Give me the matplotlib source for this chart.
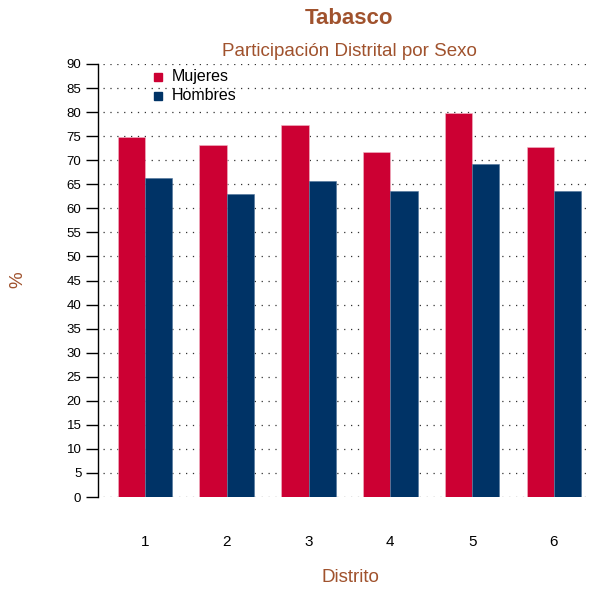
import numpy as np
import matplotlib
matplotlib.use('Agg')
import matplotlib.pyplot as plt

plt.rcParams['font.family'] = ['Liberation Sans', 'DejaVu Sans']

# data
distritos = ['1', '2', '3', '4', '5', '6']
mujeres = [74.9, 73.1, 77.3, 71.8, 79.9, 72.8]
hombres = [66.4, 63.0, 65.7, 63.7, 69.2, 63.7]

red = '#CC0033'
navy = '#003366'
brown = '#A0522D'

W, H = 591, 589
fig = plt.figure(figsize=(W/100, H/100), dpi=100)
# left spine at x=98 px, y=0 at 497 px, y=90 at 64 px
ax = fig.add_axes([98/W, (H-497)/H, (W-98)/W, (497-64)/H])

# R style barplot: bar width 1, one unit gap between groups
centers = 3*np.arange(1, 7) - 1
ax.bar(centers-0.5, mujeres, width=1, color=red, edgecolor='#f0b8c8', linewidth=0.4, zorder=2)
ax.bar(centers+0.5, hombres, width=1, color=navy, edgecolor='#4d7399', linewidth=0.4, zorder=2)

ax.set_xlim(0.28, 0.28 + (W-98)/27.27)
ax.set_ylim(0, 90)

yt = np.arange(0, 91, 5)
for y in yt:
    ax.axhline(y, color='#333333', linestyle=(1.5, (1, 4.5)), linewidth=0.9, zorder=1)

ax.set_yticks(yt)
ax.tick_params(axis='y', length=9, width=1, labelsize=9.5, pad=3, direction='out')
ax.set_xticks(centers)
ax.set_xticklabels(distritos)
ax.tick_params(axis='x', length=0, labelsize=11, pad=27)

for s in ['top', 'right', 'bottom']:
    ax.spines[s].set_visible(False)
ax.spines['left'].set_linewidth(1)

fig.text(349/W, 1-18/H, 'Tabasco', color=brown, fontsize=16, fontweight='bold',
         ha='center', va='center')
fig.text(349/W, 1-51/H, 'Participación Distrital por Sexo', color=brown, fontsize=13.5,
         ha='center', va='center')
fig.text(350/W, 1-578/H, 'Distrito', color=brown, fontsize=13.5, ha='center', va='center')
fig.text(18/W, 1-280/H, '%', color=brown, fontsize=13.5, ha='center', va='center', rotation=90)

# legend
fig.patches.append(plt.Rectangle((154/W, 1-81/H), 8/W, 8/H, color=red, transform=fig.transFigure))
fig.patches.append(plt.Rectangle((154/W, 1-100/H), 8/W, 8/H, color=navy, transform=fig.transFigure))
fig.text(172/W, 1-77/H, 'Mujeres', fontsize=11.5, va='center', ha='left')
fig.text(172/W, 1-96/H, 'Hombres', fontsize=11.5, va='center', ha='left')

fig.savefig('out.png', dpi=100)
